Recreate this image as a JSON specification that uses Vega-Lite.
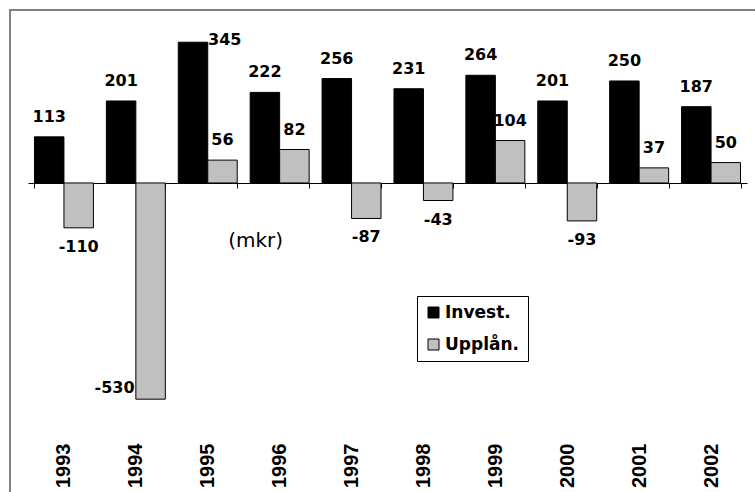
{
  "$schema": "https://vega.github.io/schema/vega-lite/v6.json",
  "width": 746,
  "height": 483,
  "autosize": {"type": "none"},
  "padding": {"left": 10, "top": 10, "right": -1, "bottom": -1},
  "background": "white",
  "config": {
    "view": {"stroke": "#808080", "strokeWidth": 2},
    "text": {"font": "DejaVu Sans", "fontWeight": "bold", "fontSize": 16, "color": "black"}
  },
  "datasets": {
    "bars": [
      {"year": "1993", "serie": "Invest.", "value": 113},
      {"year": "1994", "serie": "Invest.", "value": 201},
      {"year": "1995", "serie": "Invest.", "value": 345},
      {"year": "1996", "serie": "Invest.", "value": 222},
      {"year": "1997", "serie": "Invest.", "value": 256},
      {"year": "1998", "serie": "Invest.", "value": 231},
      {"year": "1999", "serie": "Invest.", "value": 264},
      {"year": "2000", "serie": "Invest.", "value": 201},
      {"year": "2001", "serie": "Invest.", "value": 250},
      {"year": "2002", "serie": "Invest.", "value": 187},
      {"year": "1993", "serie": "Upplån.", "value": -110},
      {"year": "1994", "serie": "Upplån.", "value": -530},
      {"year": "1995", "serie": "Upplån.", "value": 56},
      {"year": "1996", "serie": "Upplån.", "value": 82},
      {"year": "1997", "serie": "Upplån.", "value": -87},
      {"year": "1998", "serie": "Upplån.", "value": -43},
      {"year": "1999", "serie": "Upplån.", "value": 104},
      {"year": "2000", "serie": "Upplån.", "value": -93},
      {"year": "2001", "serie": "Upplån.", "value": 37},
      {"year": "2002", "serie": "Upplån.", "value": 50}
    ],
    "note": [{"label": "(mkr)", "year": "1996", "value": -157}]
  },
  "data": {"name": "bars"},
  "encoding": {
    "x": {
      "field": "year", "type": "nominal",
      "scale": {"range": [18, 737], "paddingInner": 0.18, "paddingOuter": 0.09},
      "axis": {
        "orient": "bottom", "offset": -310, "title": null,
        "domain": true, "domainColor": "black", "domainWidth": 1,
        "ticks": true, "tickBand": "extent", "tickSize": 5, "tickColor": "black", "tickWidth": 1,
        "labelAngle": 270, "labelFont": "Liberation Sans", "labelFontWeight": "bold",
        "labelFontSize": 20, "labelColor": "black", "labelPadding": 255, "grid": false
      }
    },
    "y": {
      "field": "value", "type": "quantitative",
      "scale": {"domain": [-760, 424], "nice": false, "zero": false},
      "axis": null
    }
  },
  "layer": [
    {
      "mark": {"type": "bar", "stroke": "black", "strokeWidth": 1},
      "encoding": {
        "xOffset": {"field": "serie", "type": "nominal", "scale": {"domain": ["Invest.", "Upplån."]}},
        "color": {
          "field": "serie", "type": "nominal",
          "scale": {"domain": ["Invest.", "Upplån."], "range": ["#000000", "#C0C0C0"]},
          "legend": {
            "title": null, "orient": "none", "legendX": 407, "legendY": 286,
            "strokeColor": "black", "fillColor": "white", "padding": 8,
            "symbolType": "square", "symbolSize": 121, "symbolStrokeColor": "black", "symbolStrokeWidth": 1,
            "labelFont": "DejaVu Sans", "labelFontWeight": "bold", "labelFontSize": 17, "labelColor": "black",
            "labelOffset": 3, "rowPadding": 14
          }
        }
      }
    },
    {
      "transform": [{"filter": "datum.value > 0 && datum.value < 300"}],
      "mark": {"type": "text", "align": "center", "baseline": "alphabetic", "dy": -15},
      "encoding": {
        "xOffset": {"field": "serie", "type": "nominal"},
        "text": {"field": "value", "type": "nominal"}
      }
    },
    {
      "transform": [{"filter": "datum.value >= 300"}],
      "mark": {"type": "text", "align": "left", "baseline": "alphabetic", "dx": 15, "dy": 3},
      "encoding": {
        "xOffset": {"field": "serie", "type": "nominal"},
        "text": {"field": "value", "type": "nominal"}
      }
    },
    {
      "transform": [{"filter": "datum.value < 0 && datum.value > -300"}],
      "mark": {"type": "text", "align": "center", "baseline": "alphabetic", "dy": 24},
      "encoding": {
        "xOffset": {"field": "serie", "type": "nominal"},
        "text": {"field": "value", "type": "nominal"}
      }
    },
    {
      "transform": [{"filter": "datum.value <= -300"}],
      "mark": {"type": "text", "align": "right", "baseline": "alphabetic", "dx": -16, "dy": -6},
      "encoding": {
        "xOffset": {"field": "serie", "type": "nominal"},
        "text": {"field": "value", "type": "nominal"}
      }
    },
    {
      "data": {"name": "note"},
      "mark": {"type": "text", "align": "center", "baseline": "alphabetic", "dx": -24, "fontWeight": "normal", "fontSize": 20},
      "encoding": {
        "text": {"field": "label", "type": "nominal"}
      }
    }
  ]
}
